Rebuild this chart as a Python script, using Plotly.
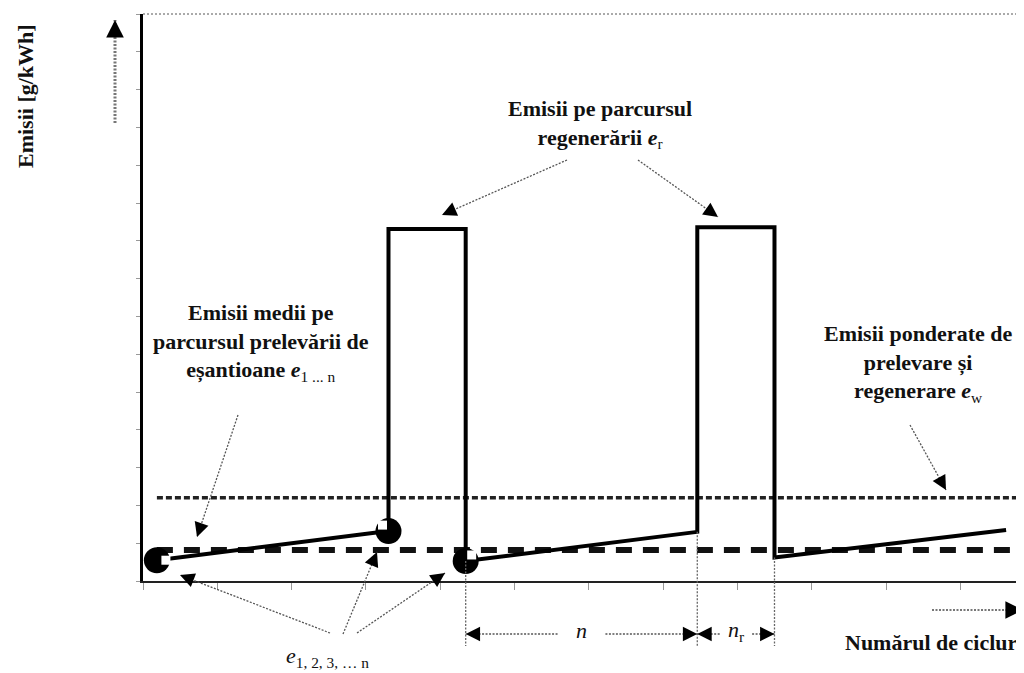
import plotly.graph_objects as go

# ---------------- data (schematic: cycles vs. emissions) ----------------
cycle_x = [0, 3, 3, 4, 4, 7, 7, 8, 8, 11]
emis_y = [0.55, 1.32, 9.31, 9.31, 0.53, 1.30, 9.36, 9.36, 0.62, 1.35]
sample_x = [0, 3, 4]            # e_1..n sample points (circles)
sample_y = [0.55, 1.32, 0.53]
mean_e = 0.82                   # mean emissions during sampling e_1...n
weighted_e = 2.2                # weighted emissions e_w
dim_x = [4, 7, 8]               # n / n_r dimension boundaries

# ---------------- layout geometry ----------------
OFF = 8                          # page body margin of the html page
W, H = 1024 - OFF, 673 - OFF
L, T = 143 - OFF, 14 - OFF
R = 0
B = H - (581 - OFF)
XR = [-0.18, 11.232]
YR = [0, 15]
pw, ph = W - L - R, H - T - B

FONT = "Liberation Serif"
INK = "#111111"


def to_px(x, y, xref, yref):
    px = L + (x - XR[0]) / (XR[1] - XR[0]) * pw if xref == "x" else L + x * pw
    py = T + ph - (y - YR[0]) / (YR[1] - YR[0]) * ph if yref == "y" else T + ph - y * ph
    return px, py


# helpers taking screen pixel positions (window coordinates)
def px2x(px):
    return XR[0] + (px - OFF - L) / pw * (XR[1] - XR[0])


def py2y(py):
    return YR[0] + (T + ph - (py - OFF)) / ph * (YR[1] - YR[0])


def px2p(px):
    return (px - OFF - L) / pw


def py2p(py):
    return (T + ph - (py - OFF)) / ph


fig = go.Figure()

# weighted emissions line e_w
fig.add_trace(go.Scatter(x=[0, XR[1]], y=[weighted_e, weighted_e], mode="lines",
                         line=dict(color="#222", width=3.5, dash="6px,3px"), hoverinfo="skip"))
# mean emissions line e_1..n
fig.add_trace(go.Scatter(x=[0, XR[1]], y=[mean_e, mean_e], mode="lines",
                         line=dict(color="#111", width=6, dash="16px,11px"), hoverinfo="skip"))
# emissions profile
fig.add_trace(go.Scatter(x=cycle_x, y=emis_y, mode="lines",
                         line=dict(color="#000", width=4), hoverinfo="skip"))
# sample points
fig.add_trace(go.Scatter(x=sample_x, y=sample_y, mode="markers", cliponaxis=False,
                         marker=dict(color="#000", size=26, line=dict(width=0)), hoverinfo="skip"))
# white notches in the sample circles (pixel offsets)
notch_off = [(9, 0), (-6, -6), (6, -6)]
ux = (XR[1] - XR[0]) / pw
uy = (YR[1] - YR[0]) / ph
fig.add_trace(go.Scatter(x=[sx + o[0] * ux for sx, o in zip(sample_x, notch_off)],
                         y=[sy - o[1] * uy for sy, o in zip(sample_y, notch_off)],
                         mode="markers", cliponaxis=False,
                         marker=dict(color="white", size=9, symbol="square", line=dict(width=0)),
                         hoverinfo="skip"))


def arrow(x0, y0, x1, y1, xref="x", yref="y", width=1.3, color="#555", head=12,
          hw=1.6, hs=1.8):
    fig.add_shape(type="line", x0=x0, y0=y0, x1=x1, y1=y1, xref=xref, yref=yref,
                  line=dict(color=color, width=width, dash="2px,1.5px"))
    p0 = to_px(x0, y0, xref, yref)
    p1 = to_px(x1, y1, xref, yref)
    dx, dy = p1[0] - p0[0], p1[1] - p0[1]
    d = (dx * dx + dy * dy) ** 0.5
    fig.add_annotation(x=x1, y=y1, xref=xref, yref=yref, ax=-dx / d * head, ay=-dy / d * head,
                       axref="pixel", ayref="pixel", text="", showarrow=True,
                       arrowhead=2, arrowsize=hs, arrowwidth=hw, arrowcolor="#000", standoff=0)


# pointer arrows
arrow(px2x(567), py2y(160), px2x(442), py2y(215))
arrow(px2x(638), py2y(160), px2x(718), py2y(217))
arrow(px2x(238), py2y(415), px2x(197), py2y(537))
arrow(px2x(910), py2y(425), px2x(946), py2y(490))
# e_1,2,3..n arrows (below axis -> paper y)
arrow(px2x(330), py2p(633), px2x(180), py2p(575), yref="paper")
arrow(px2x(343), py2p(634), px2x(377), py2p(552), yref="paper")
arrow(px2x(357), py2p(633), px2x(445), py2p(573), yref="paper")

# dimension lines for n and n_r
ydim = py2p(634)
ybot = py2p(646)
for xv in dim_x:
    ylow = min(emis_y[i] for i in range(len(cycle_x)) if cycle_x[i] == xv)
    fig.add_shape(type="line", x0=xv, x1=xv, y0=(ylow - YR[0]) / (YR[1] - YR[0]),
                  y1=ybot, xref="x", yref="paper",
                  line=dict(color="#666", width=1.3, dash="2px,1.5px"))
n_mid = (dim_x[0] + dim_x[1]) / 2
nr_mid = (dim_x[1] + dim_x[2]) / 2
arrow(n_mid - 0.31, ydim, dim_x[0], ydim, yref="paper", head=13)
arrow(n_mid + 0.31, ydim, dim_x[1], ydim, yref="paper", head=13)
arrow(nr_mid - 0.21, ydim, dim_x[1], ydim, yref="paper", head=11)
arrow(nr_mid + 0.21, ydim, dim_x[2], ydim, yref="paper", head=11)

# axis arrows (outside the plot, paper coords)
arrow(px2p(115), py2p(123), px2p(115), py2p(20), xref="paper", yref="paper",
      width=3, color="#777", head=16, hw=2.2, hs=1.6)
arrow(px2p(932), py2p(610), px2p(1023), py2p(610), xref="paper", yref="paper",
      width=2, color="#777", head=15, hw=2.2, hs=1.6)

# top dotted border
fig.add_shape(type="line", x0=0, x1=1, y0=1, y1=1, xref="paper", yref="paper",
              line=dict(color="#555", width=1, dash="2px,2px"))

# ---------------- text ----------------
bold = dict(family=FONT, size=22, color=INK)
reg = dict(family=FONT, size=22, color=INK)
C = dict(showarrow=False, xanchor="center", yanchor="middle")
fig.add_annotation(x=px2x(600), y=py2y(124), xref="x", yref="y",
                   text="<b>Emisii pe parcursul<br>regenerării <i>e</i></b><sub>r</sub>", font=bold, **C)
fig.add_annotation(x=px2x(261), y=py2y(342), xref="x", yref="y",
                   text="<b>Emisii medii pe<br>parcursul prelevării de<br>eșantioane <i>e</i></b><sub>1 ... n</sub>",
                   font=bold, **C)
fig.add_annotation(x=px2x(918), y=py2y(363), xref="x", yref="y",
                   text="<b>Emisii ponderate de<br>prelevare și<br>regenerare <i>e</i></b><sub>w</sub>",
                   font=bold, **C)
fig.add_annotation(x=px2p(25), y=py2p(96), xref="paper", yref="paper",
                   text="<b>Emisii [g/kWh]</b>", textangle=-90, font=bold, **C)
fig.add_annotation(x=px2p(843), y=py2p(642), xref="paper", yref="paper", showarrow=False,
                   xanchor="left", yanchor="middle", text="<b>Numărul de cicluri</b>", font=bold)
fig.add_annotation(x=px2x(327), y=py2p(657), xref="x", yref="paper",
                   text="<i>e</i><sub>1, 2, 3, … n</sub>", font=reg, **C)
fig.add_annotation(x=n_mid, y=py2p(631), xref="x", yref="paper",
                   text="<i>n</i>", font=reg, **C)
fig.add_annotation(x=nr_mid, y=py2p(631), xref="x", yref="paper",
                   text="<i>n</i><sub>r</sub>", font=reg, **C)

fig.update_layout(
    width=W, height=H, margin=dict(l=L, r=R, t=T, b=B, autoexpand=False),
    paper_bgcolor="white", plot_bgcolor="white", showlegend=False,
    xaxis=dict(range=XR, showgrid=False, zeroline=False, showticklabels=False,
               showline=True, linecolor="#222", linewidth=2,
               ticks="outside", ticklen=7, tickcolor="#999", tickwidth=1,
               tick0=XR[0], dtick=0.9625),
    yaxis=dict(range=YR, showgrid=False, zeroline=False, showticklabels=False,
               showline=True, linecolor="#000", linewidth=3,
               ticks="outside", ticklen=4, tickcolor="#999", tickwidth=1,
               tick0=0, dtick=1),
)

fig.write_html("out.html")
